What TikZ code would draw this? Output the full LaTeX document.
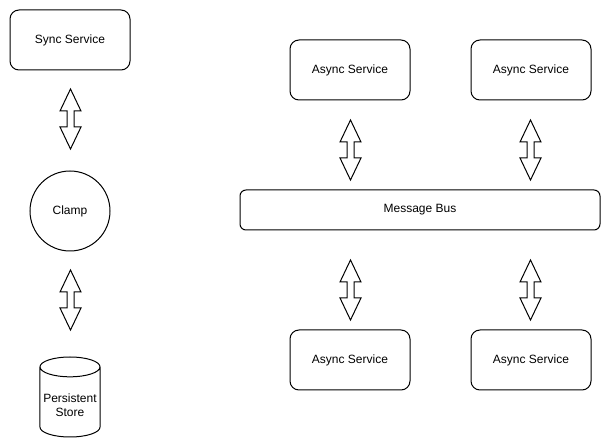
\documentclass[tikz,border=0pt]{standalone}
\usepackage{fontspec}
\setmainfont{Liberation Sans}
\usetikzlibrary{positioning, shapes.geometric}
\tikzset{every node/.style={font=\fontsize{12}{14}\selectfont, line width=1pt},
  service/.style={draw, rounded corners=9pt, minimum width=120pt, minimum height=60pt},
  busbox/.style={draw, rounded corners=6pt, minimum width=360pt, minimum height=40pt},
  twoway/.pic={\draw[line width=1pt, line join=miter] (0,-30) -- (10.5,-8) -- (3.5,-8) -- (3.5,8) -- (10.5,8) -- (0,30)
    -- (-10.5,8) -- (-3.5,8) -- (-3.5,-8) -- (-10.5,-8) -- cycle;}}

\begin{document}
\begin{tikzpicture}[x=1pt, y=-1pt, node distance=60pt]
  \useasboundingbox (0,0) rectangle (611,446);
  \node[service] (sync_service) at (70,40) {Sync Service};
  \node[draw, circle, minimum size=80pt, below=100pt of sync_service] (clamp) {Clamp};
  \node[draw, cylinder, shape border rotate=90, aspect=0.33, minimum width=60pt, minimum height=80pt,
    align=center, below=105pt of clamp] (persistent_store) {\\[-4pt]Persistent\\Store};
  \node[service] (async_top_a) at (350,70) {Async Service};
  \node[service, right=of async_top_a] (async_top_b) {Async Service};
  \node[busbox] (message_bus) at (420,210) {Message Bus};
  \node[service] (async_bottom_a) at (350,360) {Async Service};
  \node[service, right=of async_bottom_a] (async_bottom_b) {Async Service};
  \pic (sync_clamp) at (70.5,119) {twoway};
  \pic (clamp_store) at (70.5,300) {twoway};
  \pic (top_a_bus) at (350.5,150) {twoway};
  \pic (top_b_bus) at (530.5,150) {twoway};
  \pic (bus_bottom_a) at (350.5,290) {twoway};
  \pic (bus_bottom_b) at (530.5,290) {twoway};
\end{tikzpicture}
\end{document}
